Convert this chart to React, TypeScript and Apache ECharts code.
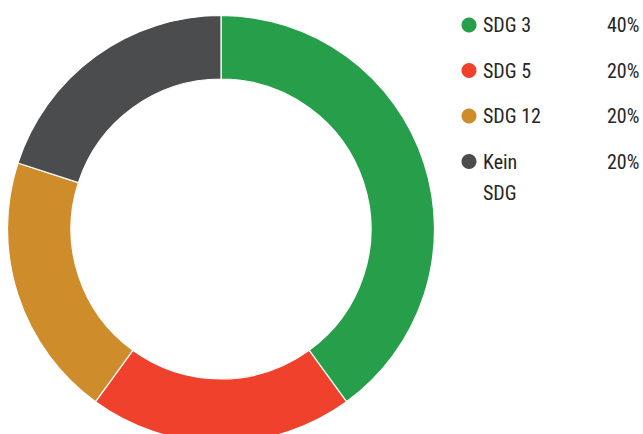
import React, { useEffect, useRef } from "react";
import * as echarts from "echarts";

const categories = ["SDG 3", "SDG 5", "SDG 12", "Kein\nSDG"];
const values = [40, 20, 20, 20];
const percentLabels = ["40%", "20%", "20%", "20%"];
const colors = ["#279e4a", "#ef412c", "#cf8c2a", "#4b4c4e"];

const FONT = "'Roboto Condensed', 'Liberation Sans Narrow', 'DejaVu Sans Condensed', sans-serif";

export default function App() {
  const ref = useRef<HTMLDivElement>(null);
  useEffect(() => {
    if (!ref.current) return;
    const chart = echarts.init(ref.current, undefined, { renderer: "svg" });
    const graphics: any[] = [];
    const rowGap = 45.5;
    categories.forEach((c, i) => {
      const y = 25 + i * rowGap;
      graphics.push({
        type: "circle",
        shape: { cx: 469, cy: y, r: 7.5 },
        style: { fill: colors[i] },
      });
      graphics.push({
        type: "text",
        x: 483,
        y: y - 15.5,
        style: {
          text: c,
          fill: "#262626",
          fontSize: 20,
          fontFamily: FONT,
          lineHeight: 31,
          verticalAlign: "top",
        },
      });
      graphics.push({
        type: "text",
        x: 607,
        y: y - 15.5,
        style: {
          text: percentLabels[i],
          fill: "#262626",
          fontSize: 20,
          fontFamily: FONT,
          lineHeight: 31,
          verticalAlign: "top",
        },
      });
    });
    chart.setOption({
      animation: false,
      series: [
        {
          type: "pie",
          center: [221, 229],
          radius: [150, 213.5],
          startAngle: 90,
          clockwise: true,
          label: { show: false },
          labelLine: { show: false },
          itemStyle: { borderColor: "#ffffff", borderWidth: 1.2 },
          emphasis: { disabled: true },
          data: categories.map((c, i) => ({
            name: c,
            value: values[i],
            itemStyle: { color: colors[i] },
          })),
        },
      ],
      graphic: graphics,
    });
    return () => chart.dispose();
  }, []);
  return <div ref={ref} style={{ width: 643, height: 434, position: "absolute", left: 0, top: 0 }} />;
}
